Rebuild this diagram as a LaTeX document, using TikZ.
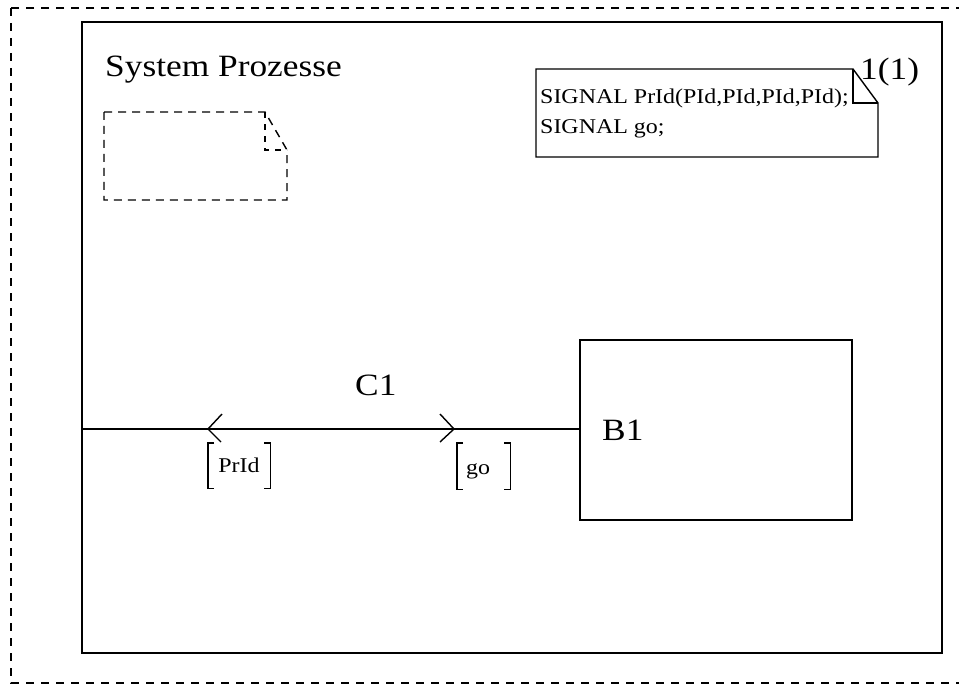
\documentclass[tikz,border=0pt]{standalone}
\usepackage{fontspec}
\setmainfont[FakeStretch=1.14]{Liberation Serif}
\usetikzlibrary{positioning}
\begin{document}
\begin{tikzpicture}[
  x=1pt,y=-1pt,
  every node/.style={inner sep=0pt},
  big/.style={font=\fontsize{31}{36}\selectfont},
  small/.style={font=\fontsize{21}{25}\selectfont},
  frame/.style={draw,line width=1.6pt},
  sigarrow/.style={line width=1.4pt}
]
\useasboundingbox (0,0) rectangle (959,685);
% frames
\draw[dashed,line width=1.6pt,dash pattern=on 8pt off 7pt] (11,8) rectangle (975,683);
\draw[frame] (82,22) rectangle (942,653);
\node[big,anchor=base west] (sysname) at (105,77) {System Prozesse};
\node[big,anchor=base west] (page) at (860,80) {1(1)};
% text symbol with signal declarations
\draw[line width=1.4pt] (536,69) -- (853,69) -- (878,103) -- (878,157) -- (536,157) -- cycle;
\draw[line width=1.2pt] (853,69) -- (853,103) -- (878,103);
\node[small,anchor=base west] (sig1) at (540,103) {SIGNAL PrId(PId,PId,PId,PId);};
\node[small,anchor=base west] (sig2) at (540,133) {SIGNAL go;};
% empty dashed text symbol
\draw[dashed,line width=1.4pt,dash pattern=on 8pt off 6pt] (104,112) -- (265,112) -- (287,150) -- (287,200) -- (104,200) -- cycle;
\draw[dashed,line width=1.2pt,dash pattern=on 6pt off 6pt] (265,112) -- (265,150) -- (287,150);
% block
\node[frame,minimum width=272pt,minimum height=180pt,anchor=north west] (b1box) at (579,339) {};
\node[big,anchor=base west] (b1) at (602,440) {B1};
% channel
\coordinate (env) at (82,429);
\draw[line width=1.4pt] (env) -- (b1box.west |- env);
\node[big,anchor=base west] (c1) at (355,395) {C1};
\coordinate (in1) at (208,429);
\coordinate (out1) at (454,429);
\draw[sigarrow] ([shift={(14,-15)}]in1) -- (in1) -- ([shift={(13,13)}]in1);
\draw[sigarrow] ([shift={(-14,-15)}]out1) -- (out1) -- ([shift={(-14,13)}]out1);
% signal lists
\node[small,minimum width=62pt,minimum height=45pt,anchor=north west] (lst1) at (208,443) {};
\node[small,anchor=base] (lst1t) at (239,472) {PrId};
\draw[line width=1.2pt] ([xshift=6pt]lst1.north west) -- (lst1.north west) -- (lst1.south west) -- ([xshift=6pt]lst1.south west);
\draw[line width=1.2pt] ([xshift=-6pt]lst1.north east) -- (lst1.north east) -- (lst1.south east) -- ([xshift=-6pt]lst1.south east);
\node[small,minimum width=53pt,minimum height=46pt,anchor=north west] (lst2) at (457,443) {};
\node[small,anchor=base west] (lst2t) at (466,474) {go};
\draw[line width=1.2pt] ([xshift=6pt]lst2.north west) -- (lst2.north west) -- (lst2.south west) -- ([xshift=6pt]lst2.south west);
\draw[line width=1.2pt] ([xshift=-6pt]lst2.north east) -- (lst2.north east) -- (lst2.south east) -- ([xshift=-6pt]lst2.south east);
\end{tikzpicture}
\end{document}
